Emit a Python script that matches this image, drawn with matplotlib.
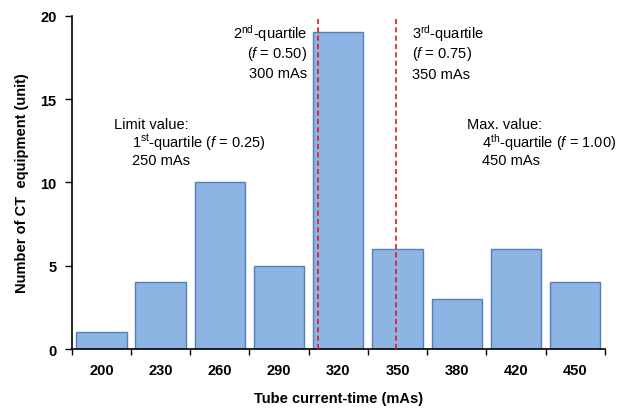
import matplotlib; matplotlib.use("Agg")
import matplotlib.pyplot as plt
import numpy as np

plt.rcParams["font.family"] = ["Liberation Sans", "DejaVu Sans"]
plt.rcParams["mathtext.fontset"] = "custom"
plt.rcParams["mathtext.rm"] = "Liberation Sans"
plt.rcParams["mathtext.it"] = "Liberation Sans:italic"

mas = ["200", "230", "260", "290", "320", "350", "380", "420", "450"]
counts = [1, 4, 10, 5, 19, 6, 3, 6, 4]
quartile_lines = [3.66, 4.98]   # positions of 2nd / 3rd quartile (300, 350 mAs)

fig = plt.figure(figsize=(6.3, 4.1), dpi=100)
ax = fig.add_axes([0.114, 0.146, 0.846, 0.813])

x = np.arange(len(mas))
ax.bar(x, counts, width=0.85, color="#8db4e2", edgecolor="#5080bd", linewidth=1.0, zorder=2)
for xv in quartile_lines:
    ax.axvline(xv, color="#e8141c", ls=(0, (3, 2)), lw=1.2, zorder=3)

ax.set_xlim(-0.5, len(mas) - 0.5)
ax.set_ylim(0, 20)
ax.set_yticks([0, 5, 10, 15, 20])
ax.set_xticks(x)
ax.set_xticklabels(mas)
ax.set_xticks(np.arange(-0.5, len(mas)), minor=True)
ax.tick_params(axis="x", which="major", length=0, pad=10, labelsize=10.5)
ax.tick_params(axis="x", which="minor", length=4, width=1, direction="out")
ax.tick_params(axis="y", length=5, width=1, direction="out", pad=6, labelsize=10.5)
for lab in ax.get_xticklabels() + ax.get_yticklabels():
    lab.set_fontweight("bold")
for s in ["top", "right"]:
    ax.spines[s].set_visible(False)
for s in ["left", "bottom"]:
    ax.spines[s].set_linewidth(1.2)

ax.set_xlabel("Tube current-time (mAs)", fontweight="bold", fontsize=10.5, labelpad=10)
ax.set_ylabel("Number of CT  equipment (unit)", fontweight="bold", fontsize=10.5, labelpad=8)

fs = 10.5
def px(xp, yp):
    # pixel position (from top-left of figure) -> figure fraction
    return xp / 630, 1 - yp / 410

def put(xp, yp, s, ha="left"):
    fig.text(*px(xp, yp), s, ha=ha, va="center", fontsize=fs)

put(307, 34, r"2$^{\mathrm{nd}}$-quartile", ha="right")
put(307, 54, r"($\mathit{f}$ = 0.50)", ha="right")
put(307, 74, "300 mAs", ha="right")

put(412, 34, r"3$^{\mathrm{rd}}$-quartile")
put(412, 54, r"($\mathit{f}$ = 0.75)")
put(412, 75, "350 mAs")

put(114, 125, "Limit value:")
put(132, 143, r"1$^{\mathrm{st}}$-quartile ($\mathit{f}$ = 0.25)")
put(132, 161, "250 mAs")

put(467, 125, "Max. value:")
put(482, 143, r"4$^{\mathrm{th}}$-quartile ($\mathit{f}$ = 1.00)")
put(482, 161, "450 mAs")

fig.savefig("out.png", dpi=100)
